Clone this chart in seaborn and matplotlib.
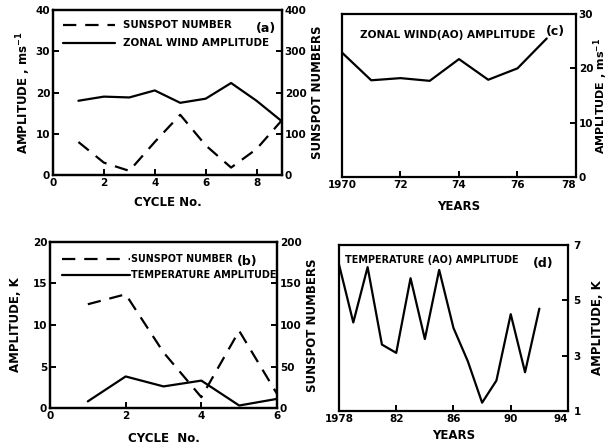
import numpy as np
import pandas as pd
import matplotlib
matplotlib.use("Agg")
import matplotlib.pyplot as plt
import seaborn as sns

# ---- data ----
cycle_a = [1, 2, 3, 4, 5, 6, 7, 8, 9]
wind_amp_a = [18.0, 19.0, 18.8, 20.5, 17.5, 18.5, 22.3, 18.0, 13.0]
sunspot_a = [80, 30, 10, 80, 146, 72, 18, 63, 133]

cycle_b = [1, 2, 3, 4, 5, 6]
temp_amp_b = [0.8, 3.8, 2.6, 3.3, 0.3, 1.1]
sunspot_b = [125, 137, 67, 13, 93, 17]

years_c = [1970, 1971, 1972, 1973, 1974, 1975, 1976, 1977]
wind_ao_c = [22.9, 17.8, 18.2, 17.7, 21.7, 17.9, 20.0, 25.5]

years_d = [1978, 1979, 1980, 1981, 1982, 1983, 1984, 1985, 1986, 1987,
           1988, 1989, 1990, 1991, 1992]
temp_ao_d = [6.3, 4.2, 6.2, 3.4, 3.1, 5.8, 3.6, 6.1, 4.0, 2.8,
             1.3, 2.1, 4.5, 2.4, 4.7]

sns.set_style("ticks")
plt.rcParams['font.family'] = ['DejaVu Sans']
plt.rcParams['font.weight'] = 'bold'
plt.rcParams['axes.labelweight'] = 'bold'
plt.rcParams['text.color'] = 'black'
plt.rcParams['axes.labelcolor'] = 'black'
plt.rcParams['xtick.color'] = 'black'
plt.rcParams['ytick.color'] = 'black'
plt.rcParams['axes.linewidth'] = 1.6
plt.rcParams['xtick.direction'] = 'in'
plt.rcParams['ytick.direction'] = 'in'
plt.rcParams['xtick.major.width'] = 1.4
plt.rcParams['ytick.major.width'] = 1.4
plt.rcParams['xtick.major.size'] = 4
plt.rcParams['ytick.major.size'] = 4

TS = 7.5
LS = 8.5
LW = 1.6

fig = plt.figure(figsize=(6.11, 4.46), dpi=100)

def style(ax):
    for s in ax.spines.values():
        s.set_visible(True)
        s.set_color('black')
    ax.tick_params(labelsize=TS, colors='black', labelcolor='black', pad=2)

# ---- (a) ----
axa = fig.add_axes([0.0867, 0.6076, 0.3748, 0.3700])
axa2 = axa.twinx()
sns.lineplot(x=cycle_a, y=sunspot_a, ax=axa2, color='black', lw=LW,
             linestyle=(0, (6, 4)), label='SUNSPOT NUMBER', legend=False)
sns.lineplot(x=cycle_a, y=wind_amp_a, ax=axa, color='black', lw=LW,
             label='ZONAL WIND AMPLITUDE', legend=False)
axa.set_xlim(0, 9)
axa.set_ylim(0, 40)
axa2.set_ylim(0, 400)
axa.set_xticks([0, 2, 4, 6, 8])
axa.set_yticks([0, 10, 20, 30, 40])
axa2.set_yticks([0, 100, 200, 300, 400])
axa.set_xlabel('CYCLE No.', fontsize=LS, labelpad=6)
axa.set_ylabel('AMPLITUDE , ms$^{-1}$', fontsize=LS, labelpad=2)
axa2.set_ylabel('SUNSPOT NUMBERS', fontsize=LS, labelpad=3)
style(axa); style(axa2)
h1, l1 = axa2.get_legend_handles_labels()
h2, l2 = axa.get_legend_handles_labels()
axa.legend(h1 + h2, l1 + l2, loc='upper left', bbox_to_anchor=(0.0, 1.0),
           frameon=False, fontsize=7.4, handlelength=5, handletextpad=0.8,
           labelspacing=0.8, borderaxespad=0.6)
axa.text(0.975, 0.885, '(a)', transform=axa.transAxes, ha='right', va='center',
         fontsize=9, fontweight='bold')

# ---- (b) ----
axb = fig.add_axes([0.0818, 0.0852, 0.3716, 0.3722])
axb2 = axb.twinx()
sns.lineplot(x=cycle_b, y=sunspot_b, ax=axb2, color='black', lw=LW,
             linestyle=(0, (6, 4)), label='SUNSPOT NUMBER', legend=False)
sns.lineplot(x=cycle_b, y=temp_amp_b, ax=axb, color='black', lw=LW,
             label='TEMPERATURE AMPLITUDE', legend=False)
axb.set_xlim(0, 6)
axb.set_ylim(0, 20)
axb2.set_ylim(0, 200)
axb.set_xticks([0, 2, 4, 6])
axb.set_yticks([0, 5, 10, 15, 20])
axb2.set_yticks([0, 50, 100, 150, 200])
axb.set_xlabel('CYCLE  No.', fontsize=LS, labelpad=8)
axb.set_ylabel('AMPLITUDE, K', fontsize=LS, labelpad=8)
axb2.set_ylabel('SUNSPOT NUMBERS', fontsize=LS, labelpad=3)
style(axb); style(axb2)
h1, l1 = axb2.get_legend_handles_labels()
h2, l2 = axb.get_legend_handles_labels()
axb.legend(h1 + h2, l1 + l2, loc='upper left', bbox_to_anchor=(0.0, 1.0),
           frameon=False, fontsize=6.9, handlelength=7, handletextpad=0.15,
           labelspacing=0.6, borderaxespad=0.9)
axb.text(0.87, 0.885, '(b)', transform=axb.transAxes, ha='center', va='center',
         fontsize=9, fontweight='bold')

# ---- (c) ----
axc = fig.add_axes([0.5597, 0.6031, 0.3830, 0.3655])
sns.lineplot(x=years_c, y=wind_ao_c, ax=axc, color='black', lw=LW)
axc.set_xlim(1970, 1978)
axc.set_ylim(0, 30)
axc.set_xticks([1970, 1972, 1974, 1976, 1978])
axc.set_xticklabels(['1970', '72', '74', '76', '78'])
axc.get_xticklabels()[-1].set_horizontalalignment('right')
axc.yaxis.tick_right()
axc.yaxis.set_label_position('right')
axc.set_yticks([0, 10, 20, 30])
axc.set_xlabel('YEARS', fontsize=LS, labelpad=7)
style(axc)
axc.tick_params(axis='y', pad=2)
axc.set_ylabel('AMPLITUDE , ms$^{-1}$', fontsize=8, labelpad=-1)
axc.text(0.075, 0.87, 'ZONAL WIND(AO) AMPLITUDE', transform=axc.transAxes,
         ha='left', va='center', fontsize=7.6, fontweight='bold')
axc.text(0.955, 0.89, '(c)', transform=axc.transAxes, ha='right', va='center',
         fontsize=9, fontweight='bold')

# ---- (d) ----
axd = fig.add_axes([0.5548, 0.0785, 0.3748, 0.3722])
sns.lineplot(x=years_d, y=temp_ao_d, ax=axd, color='black', lw=LW)
axd.set_xlim(1978, 1994)
axd.set_ylim(1, 7)
axd.set_xticks([1978, 1982, 1986, 1990, 1994])
axd.set_xticklabels(['1978', '82', '86', '90', '94'])
axd.get_xticklabels()[-1].set_horizontalalignment('right')
axd.yaxis.tick_right()
axd.yaxis.set_label_position('right')
axd.set_yticks([1, 3, 5, 7])
axd.set_xlabel('YEARS', fontsize=LS, labelpad=4)
style(axd)
axd.tick_params(axis='y', pad=4)
axd.set_ylabel('AMPLITUDE, K', fontsize=LS, labelpad=7)
axd.text(0.025, 0.91, 'TEMPERATURE (AO) AMPLITUDE', transform=axd.transAxes,
         ha='left', va='center', fontsize=6.9, fontweight='bold')
axd.text(0.89, 0.89, '(d)', transform=axd.transAxes, ha='center', va='center',
         fontsize=9, fontweight='bold')

fig.savefig('out.png', dpi=100)
